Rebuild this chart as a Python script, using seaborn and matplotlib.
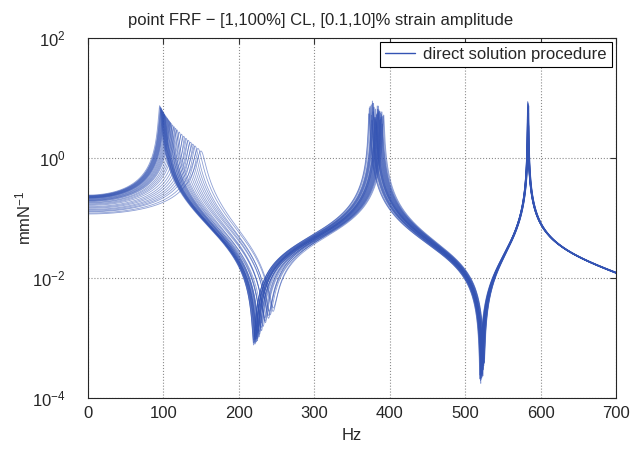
import numpy as np
import pandas as pd
import seaborn as sns
import matplotlib
matplotlib.use("Agg")
import matplotlib.pyplot as plt
from matplotlib.lines import Line2D

# modal residues (mm/N * Hz^2) shared by all cases, plus a residual compliance
R1 = 1850.0
R2 = 3040.0
R3 = 1420.0
R_RES = 0.010

f1 = [95.0, 96.0, 96.5, 97.0, 97.5, 98.0, 98.5, 99.0, 99.5, 100.0, 100.5, 101.0,
      101.5, 102.0, 103.0, 104.0, 105.0, 106.0, 107.0, 108.0, 109.0, 110.0, 112.0, 114.0,
      116.0, 118.0, 121.0, 124.0, 127.0, 130.0, 133.0, 136.0, 139.0, 142.0, 146.0, 150.0]
zeta1 = [0.0138, 0.0141, 0.0144, 0.0147, 0.0150, 0.0153, 0.0155, 0.0158, 0.0160, 0.0163,
         0.0165, 0.0168, 0.0170, 0.0172, 0.0175, 0.0178, 0.0182, 0.0186, 0.0190, 0.0194,
         0.0198, 0.0202, 0.0208, 0.0214, 0.0220, 0.0226, 0.0234, 0.0242, 0.0250, 0.0258,
         0.0266, 0.0274, 0.0282, 0.0290, 0.0302, 0.0315]
f2 = [377.0, 381.0, 375.5, 382.5, 378.5, 384.5, 374.0, 380.0, 386.0, 377.5, 383.0, 373.0,
      381.5, 385.0, 376.0, 388.0, 379.0, 382.0, 387.0, 372.5, 380.5, 384.0, 389.0, 376.5,
      383.5, 388.5, 378.0, 390.0, 385.5, 381.0, 391.0, 386.5, 389.5, 382.5, 392.0, 387.5]
zeta2 = [0.0012, 0.0016, 0.0014, 0.0020, 0.0013, 0.0018, 0.0015, 0.0022, 0.0017, 0.0013,
         0.0019, 0.0016, 0.0024, 0.0014, 0.0021, 0.0018, 0.0015, 0.0026, 0.0017, 0.0020,
         0.0023, 0.0016, 0.0019, 0.0025, 0.0014, 0.0021, 0.0018, 0.0027, 0.0016, 0.0022,
         0.0020, 0.0024, 0.0017, 0.0028, 0.0019, 0.0023]
f3 = [583.0, 583.4, 582.8, 583.6, 583.2, 582.6, 583.8, 583.1, 582.9, 583.5, 583.3, 582.7,
      584.0, 583.0, 583.7, 582.5, 583.4, 583.9, 582.8, 583.2, 584.2, 583.6, 582.9, 583.1,
      584.4, 583.3, 582.6, 583.8, 583.5, 583.0, 584.1, 582.7, 583.4, 583.9, 583.2, 584.3]
zeta3 = [0.00024, 0.00030, 0.00036, 0.00028, 0.00042, 0.00033, 0.00026, 0.00048, 0.00038,
         0.00031, 0.00052, 0.00027, 0.00044, 0.00035, 0.00029, 0.00056, 0.00040, 0.00032,
         0.00046, 0.00025, 0.00037, 0.00050, 0.00034, 0.00041, 0.00028, 0.00054, 0.00039,
         0.00030, 0.00045, 0.00036, 0.00058, 0.00033, 0.00043, 0.00027, 0.00049, 0.00060]

x_ticks = [0, 100, 200, 300, 400, 500, 600, 700]
y_ticks = [1e-4, 1e-2, 1e0, 1e2]
y_tick_labels = ["$10^{-4}$", "$10^{-2}$", "$10^{0}$", "$10^{2}$"]

LINE_COLOR = "#3353b3"

# frequency grid, finer around the sharp peaks
freq = np.unique(np.concatenate([
    np.arange(0, 700.001, 0.25),
    np.arange(360, 400, 0.02),
    np.arange(575, 592, 0.005),
]))


def receptance(f, fn, zn, r):
    return r / (fn**2 - f**2 + 2j * zn * fn * f)


frames = []
for i in range(len(f1)):
    h = (receptance(freq, f1[i], zeta1[i], R1)
         + receptance(freq, f2[i], zeta2[i], R2)
         + receptance(freq, f3[i], zeta3[i], R3)
         + R_RES)
    frames.append(pd.DataFrame({"Hz": freq, "mag": np.abs(h), "case": i}))
df = pd.concat(frames, ignore_index=True)

sns.set_style("white")
plt.rcParams["font.family"] = ["Liberation Sans", "DejaVu Sans"]
plt.rcParams["mathtext.fontset"] = "custom"
plt.rcParams["mathtext.rm"] = "Liberation Sans"
plt.rcParams["mathtext.it"] = "Liberation Sans:italic"

fig = plt.figure(figsize=(6.31, 4.5), dpi=100)
ax = fig.add_axes([0.1395, 0.1156, 0.8367, 0.8])

sns.lineplot(data=df, x="Hz", y="mag", units="case", estimator=None, ax=ax,
             color=LINE_COLOR, linewidth=0.6, alpha=0.55, legend=False)

ax.set_yscale("log")
ax.set_xlim(0, 700)
ax.set_ylim(1e-4, 1e2)
ax.set_xticks(x_ticks)
ax.set_yticks(y_ticks)
ax.set_yticklabels(y_tick_labels)
ax.yaxis.set_minor_locator(matplotlib.ticker.NullLocator())
ax.tick_params(direction="in", top=True, right=True, length=4, width=0.8,
               labelsize=12, color="0.2")
ax.tick_params(axis="x", pad=6)
ax.tick_params(axis="y", pad=16)
ax.grid(True, which="major", linestyle=":", color="0.55", linewidth=0.8)
for s in ax.spines.values():
    s.set_color("0.15")
    s.set_linewidth(0.8)

ax.set_xlabel("Hz", fontsize=12, labelpad=5)
ax.set_ylabel("mmN$^{-1}$", fontsize=12, labelpad=-1)
# the title sits over the figure centre rather than the axes centre
ax.set_title("point FRF \u2212 [1,100%] CL, [0.1,10]% strain amplitude",
             fontsize=12, pad=9, x=0.44)

handle = Line2D([0], [0], color=LINE_COLOR, linewidth=1.0)
leg = ax.legend([handle], ["direct solution procedure"], loc="upper right",
                fontsize=12, fancybox=False, framealpha=1, borderaxespad=0.25,
                handlelength=1.8, handletextpad=0.5, borderpad=0.3)
leg.get_frame().set_edgecolor("black")
leg.get_frame().set_linewidth(0.8)

fig.savefig("out.png", dpi=100)
